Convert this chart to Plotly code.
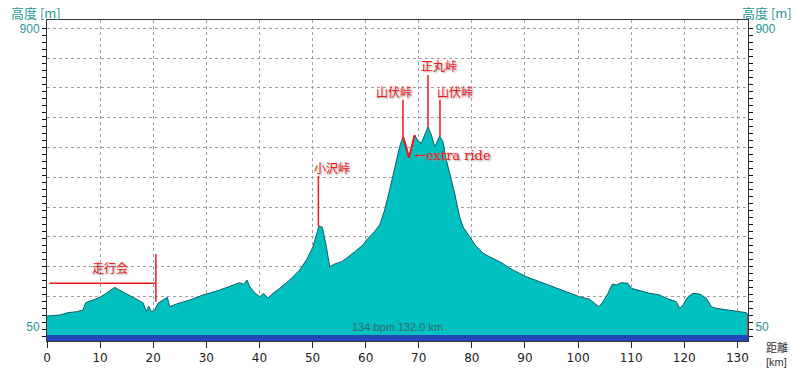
import plotly.graph_objects as go

# ---- data ----
dist_km = [0, 2.39, 3.95, 5.54, 6.78, 7.29, 8.66, 9.92, 11.18, 12.13, 12.75, 13.37, 14.63, 15.89,
           17.13, 18.08, 18.72, 19.15, 19.66, 20.28, 20.9, 21.84, 22.67, 23.1, 24.36, 26.87, 29.37,
           32.52, 35.02, 36.28, 37.04, 37.66, 38.17, 39.11, 40.05, 40.8, 41.61, 42.55, 43.81, 45.7,
           47.58, 48.84, 50.08, 50.84, 51.21, 51.85, 52.61, 53.23, 54.17, 55.43, 56.37, 57.94, 59.5,
           60.14, 61.38, 62.64, 63.58, 64.52, 65.46, 66.4, 67.03, 67.54, 68.16, 68.8, 69.23, 69.86,
           70.49, 71.12, 71.74, 72.38, 73.0, 73.94, 74.56, 75.2, 75.82, 76.76, 77.7, 78.33, 79.59,
           80.85, 81.47, 82.09, 83.35, 85.24, 87.74, 90.27, 92.77, 95.27, 97.8, 100.3, 102.19,
           103.12, 103.94, 104.69, 105.63, 106.46, 107.21, 108.15, 109.39, 110.03, 111.6, 113.48,
           115.36, 116.62, 118.51, 119.13, 119.75, 120.69, 121.63, 122.9, 124.16, 125.1, 126.04,
           127.92, 129.8, 131.69, 132]
elev_m = [79.5, 82.3, 88.9, 91.7, 96.6, 117.4, 125.1, 132.8, 144.2, 155.6, 161.3, 155.6, 145.9, 136.5,
          127.1, 117.4, 91.7, 108, 91.7, 96.6, 115.7, 125.1, 132.8, 106, 113.7, 125.1, 139.4,
          153.6, 167.9, 174.5, 169.9, 182.2, 163, 145.9, 134.5, 144.2, 130, 144.2, 158.5, 182.2,
          210.7, 239.2, 277.1, 315.3, 336.2, 332.5, 277.1, 220.1, 227.8, 234.3, 244, 262.9, 282,
          296.2, 315.3, 339, 381.8, 438.8, 500.7, 562.3, 590.8, 572, 531, 572, 595.7, 579.4,
          572, 595.7, 619.4, 595.7, 562.3, 592.8, 576.6, 524.4, 486.5, 429.4, 362.7, 334.2, 305.6,
          277.1, 269.7, 258.3, 248.6, 234.3, 210.7, 191.6, 177.3, 163, 148.8, 134.5, 127.1,
          115.7, 106, 120.3, 144.2, 170.7, 167.9, 174.5, 172.7, 158.5, 151.6, 144.2,
          139.4, 130, 120.3, 101.4, 110.8, 134.5, 144.2, 142.2, 130, 106, 101.4,
          96.6, 91.7, 88.9, 82.3]

extra_km = [67.03, 68.16, 69.23]
extra_m = [590.8, 531, 595.7]

pass_names = ["小沢峠", "山伏峠", "正丸峠", "山伏峠"]
pass_km = [51.1, 67.03, 71.74, 74.0]
pass_peak_m = [336, 591, 619, 593]
pass_line_top_m = [479, 696, 767, 696]
pass_label_km = [53.7, 65.3, 73.9, 76.9]
pass_label_m = [504, 719, 793, 719]

event_name = "走行会"
event_km = 20.5
event_start_km = 0.5
event_level_m = 173
event_line_m = [120, 256]
event_label_km = 11.8
event_label_m = 218

band_m = [8.2, 25]
summary_text = "134 bpm 132.0 km"
y_labels = {50: "50", 900: "900"}
x_ticks = list(range(0, 131, 10))
y_grid = [50 + 85 * k for k in range(11)]
y_minor = list(range(20, 901, 20))

Y_RANGE = [8.2, 923.7]
X_RANGE = [0, 132]
RED = "#F01818"
TEAL_TXT = "#2A9696"

fig = go.Figure()

# elevation profile
fig.add_trace(go.Scatter(x=dist_km, y=elev_m, mode="lines", fill="tozeroy",
                         fillcolor="#00C0C0", line=dict(color="#0E5F66", width=1),
                         hoverinfo="skip", showlegend=False))
# extra ride segment
fig.add_trace(go.Scatter(x=extra_km, y=extra_m, mode="lines",
                         line=dict(color=RED, width=2), showlegend=False, hoverinfo="skip"))
# pass callout lines
for k, top, pk in zip(pass_km, pass_line_top_m, pass_peak_m):
    fig.add_trace(go.Scatter(x=[k, k], y=[top, pk], mode="lines",
                             line=dict(color=RED, width=1.5), showlegend=False, hoverinfo="skip"))
# event bracket
fig.add_trace(go.Scatter(x=[event_start_km, event_km], y=[event_level_m, event_level_m], mode="lines",
                         line=dict(color=RED, width=1.5), showlegend=False, hoverinfo="skip"))
fig.add_trace(go.Scatter(x=[event_km, event_km], y=event_line_m, mode="lines",
                         line=dict(color=RED, width=1.5), showlegend=False, hoverinfo="skip"))
# bottom band (on overlaying axis so it sits on top)
fig.add_trace(go.Scatter(x=X_RANGE, y=[band_m[1], band_m[1]], mode="lines", fill="tozeroy",
                         fillcolor="#2446B6", line=dict(color="#2446B6", width=0),
                         yaxis="y2", showlegend=False, hoverinfo="skip"))
# cursor at the end
fig.add_trace(go.Scatter(x=[dist_km[-1], dist_km[-1]], y=[band_m[1], elev_m[-1]], mode="lines",
                         line=dict(color=RED, width=1.5), yaxis="y2",
                         showlegend=False, hoverinfo="skip"))

shadow = "1px 1px 2px #999"
ann = []
for name, lk, lm in zip(pass_names, pass_label_km, pass_label_m):
    ann.append(dict(x=lk, y=lm, xref="x", yref="y", text=name, showarrow=False,
                    font=dict(family="Noto Sans CJK JP", size=12, color=RED, shadow=shadow)))
ann.append(dict(x=event_label_km, y=event_label_m, xref="x", yref="y", text=event_name, showarrow=False,
                font=dict(family="Noto Sans CJK JP", size=12, color=RED, shadow=shadow)))
ann.append(dict(x=68.85, y=538, xref="x", yref="y", text="←extra ride", showarrow=False,
                xanchor="left",
                font=dict(family="DejaVu Serif", size=13, color=RED, shadow=shadow)))
ann.append(dict(x=66, y=47, xref="x", yref="y", text=summary_text, showarrow=False,
                font=dict(family="Liberation Sans", size=11, color="#3A6A6A")))
ann.append(dict(x=9, y=368 - 12.7, xref="paper", yref="paper", text="高度 [m]", showarrow=False,
                font=dict(family="Noto Sans CJK JP", size=13, color=TEAL_TXT)))
ann.append(dict(x=740, y=368 - 12.7, xref="paper", yref="paper", text="高度 [m]", showarrow=False,
                font=dict(family="Noto Sans CJK JP", size=13, color=TEAL_TXT)))
ann.append(dict(x=765, y=368 - 347, xref="paper", yref="paper", text="距離", showarrow=False,
                borderpad=0,
                font=dict(family="Noto Sans CJK JP", size=11, color="#333333")))
ann.append(dict(x=765, y=368 - 361.5, xref="paper", yref="paper", text="[km]", showarrow=False,
                borderpad=0,
                font=dict(family="Liberation Sans", size=11, color="#333333")))

# convert pixel-placed paper annotations
W, H = 800, 368
L, R, T, B = 47, 52, 20, 27
pw, ph = W - L - R, H - T - B
for a in ann:
    if a["xref"] == "paper":
        px, py = a["x"], a["y"]
        a["x"] = (px - L) / pw
        a["y"] = (py - B) / ph
        a["xanchor"] = "left"
        a["yanchor"] = "middle"

fig.update_layout(
    width=W, height=H, margin=dict(l=L, r=R, t=T, b=B, autoexpand=False),
    paper_bgcolor="white", plot_bgcolor="white",
    showlegend=False,
    annotations=ann,
    xaxis=dict(range=X_RANGE, tickmode="array", tickvals=x_ticks, automargin=False,
               ticks="outside", ticklen=6, tickcolor="#222", showline=True,
               linecolor="#333", mirror=True, showgrid=True, gridcolor="#A0A0A0",
               griddash="dot", gridwidth=1, zeroline=False,
               tickfont=dict(family="DejaVu Sans", size=12, color="#222")),
    yaxis=dict(range=Y_RANGE, tickmode="array", tickvals=y_grid, automargin=False,
               ticktext=[y_labels.get(v, "") for v in y_grid],
               ticks="outside", ticklen=4, tickcolor="rgba(0,0,0,0)",
               showline=True, linecolor="#333", mirror=True,
               showgrid=True, gridcolor="#A0A0A0", griddash="dot", gridwidth=1,
               zeroline=False,
               minor=dict(tickmode="array", tickvals=y_minor, ticks="outside",
                          ticklen=4, tickcolor="#111", showgrid=False),
               tickfont=dict(family="Liberation Sans", size=12, color=TEAL_TXT)),
    yaxis2=dict(range=Y_RANGE, overlaying="y", side="right", tickmode="array", automargin=False,
                tickvals=y_grid, ticktext=[y_labels.get(v, "") for v in y_grid],
                ticks="outside", ticklen=4, tickcolor="rgba(0,0,0,0)",
                showgrid=False, zeroline=False, showline=False,
                minor=dict(tickmode="array", tickvals=y_minor, ticks="outside",
                           ticklen=4, tickcolor="#111", showgrid=False),
                tickfont=dict(family="Liberation Sans", size=12, color=TEAL_TXT)),
)

fig.write_html("out.html", config={"displayModeBar": False},
               post_script="document.body.style.margin='0';document.body.style.padding='0';"
                           "document.documentElement.style.overflow='hidden';")
